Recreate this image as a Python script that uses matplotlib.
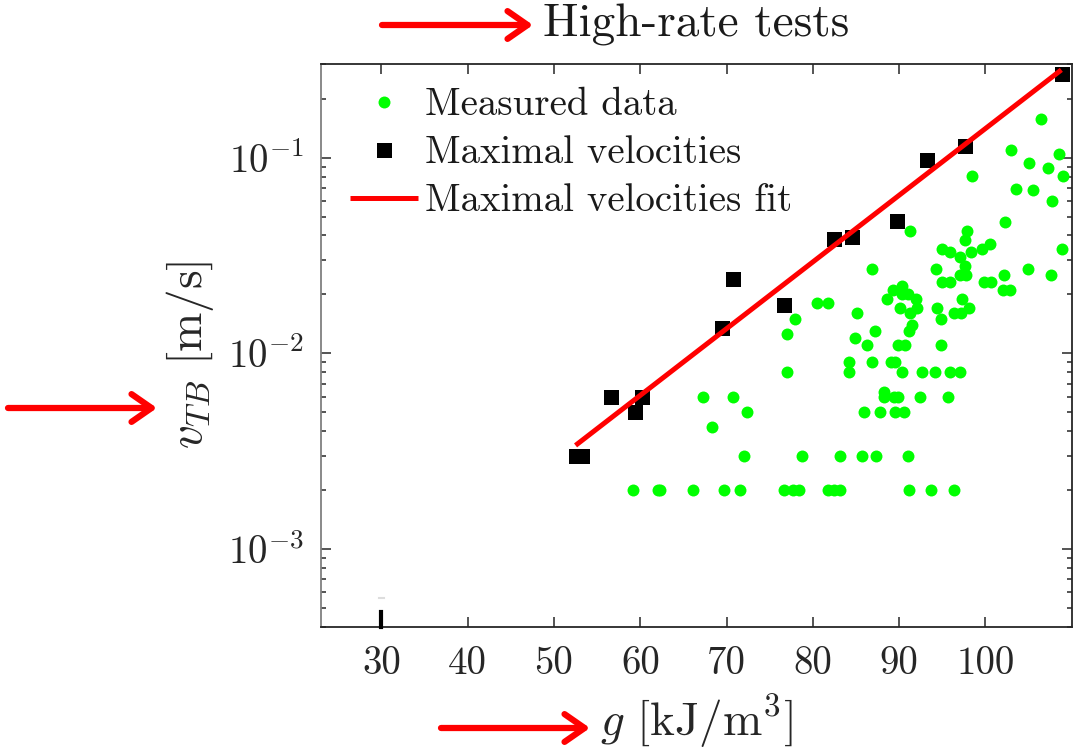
import math
import matplotlib
matplotlib.use("Agg")
import matplotlib.pyplot as plt
from matplotlib.patches import FancyArrowPatch
from matplotlib.ticker import FixedLocator, LogLocator, NullFormatter, FuncFormatter

plt.rcParams['font.family'] = 'serif'
plt.rcParams['font.serif'] = ['cmr10']
plt.rcParams['mathtext.fontset'] = 'cm'
plt.rcParams['axes.unicode_minus'] = False

# ---------------- data ----------------
meas_x = [91.3, 95.0, 95.9, 97.1, 97.6, 97.9, 98.3, 99.6, 100.5, 102.3, 98.4, 103.0, 103.5,
          105.1, 105.5, 106.5, 107.3, 107.7, 108.5, 109.0, 108.9,
          86.8, 94.3, 97.6, 97.0, 97.8, 104.9, 107.6, 102.1, 95.0, 95.9, 99.8, 100.7, 102.0,
          102.8, 89.3, 90.3, 88.6, 90.3, 91.0, 92.0, 90.1, 91.3, 92.1, 94.4, 94.9, 97.3, 98.1,
          96.4, 97.2, 85.1, 80.5, 81.8, 77.9, 77.0, 87.2, 84.9, 91.5, 91.2, 86.3, 89.9, 90.7,
          94.9, 84.2, 86.8, 89.1, 89.5, 84.2, 90.3, 92.7, 94.2, 95.9, 97.1, 77.0,
          67.3, 70.8, 88.3, 88.2, 89.4, 89.9, 92.4, 95.7,
          72.4, 85.9, 87.8, 89.5, 90.6,
          68.3,
          72.0, 78.8, 83.2, 85.7, 87.3, 91.0,
          59.2, 62.0, 62.3, 66.1, 69.7, 71.6, 76.6, 77.7, 78.4, 81.8, 82.4, 83.2, 91.1, 93.7, 96.4]
meas_y = [0.042, 0.034, 0.033, 0.031, 0.038, 0.042, 0.033, 0.034, 0.036, 0.047, 0.081, 0.110, 0.069,
          0.094, 0.068, 0.158, 0.089, 0.060, 0.104, 0.081, 0.034,
          0.027, 0.027, 0.028, 0.025, 0.025, 0.027, 0.025, 0.025, 0.023, 0.023, 0.023, 0.023, 0.021,
          0.021, 0.021, 0.022, 0.019, 0.020, 0.020, 0.019, 0.017, 0.016, 0.017, 0.017, 0.015, 0.019, 0.017,
          0.016, 0.016, 0.016, 0.018, 0.018, 0.015, 0.0125, 0.013, 0.012, 0.014, 0.013, 0.011, 0.011, 0.011,
          0.011, 0.009, 0.009, 0.009, 0.009, 0.008, 0.008, 0.008, 0.008, 0.008, 0.008, 0.008,
          0.006, 0.006, 0.0063, 0.006, 0.006, 0.006, 0.006, 0.006,
          0.005, 0.005, 0.005, 0.005, 0.005,
          0.0042,
          0.003, 0.003, 0.003, 0.003, 0.003, 0.003,
          0.002, 0.002, 0.002, 0.002, 0.002, 0.002, 0.002, 0.002, 0.002, 0.002, 0.002, 0.002, 0.002, 0.002, 0.002]

max_x = [52.6, 53.3, 56.6, 59.4, 60.2, 69.5, 70.8, 76.6, 82.4, 84.5, 89.8, 93.2, 97.6, 108.9]
max_y = [0.0030, 0.0030, 0.0060, 0.0050, 0.0060, 0.0135, 0.0239, 0.0177, 0.0384, 0.0392,
         0.0477, 0.0973, 0.115, 0.267]

fit_x = [52.5, 108.8]
fit_y = [0.00338, 0.281]

artifact_x = [30, 30]
artifact_y = [4.0e-4, 4.77e-4]
artifact2_x = [29.75, 30.25]
artifact2_y = [5.64e-4, 5.64e-4]

x_ticks = [30, 40, 50, 60, 70, 80, 90, 100]
x_lim = (23.0, 110.0)
y_lim = (4.0e-4, 0.30)

legend_labels = ['Measured data', 'Maximal velocities', 'Maximal velocities fit']

# ---------------- figure ----------------
W, H = 1076, 751
fig = plt.figure(figsize=(W / 100, H / 100), dpi=100)
L, R, T, B = 321, 1071.7, 64.3, 626.7
ax = fig.add_axes([L / W, 1 - B / H, (R - L) / W, (B - T) / H])

ax.set_yscale('log')
ax.set_xlim(*x_lim)
ax.set_ylim(*y_lim)

ax.plot(meas_x, meas_y, 'o', color='#00ff00', markersize=8.6, markeredgewidth=0,
        label=legend_labels[0], zorder=3)
ax.plot(max_x, max_y, 's', color='black', markersize=10.8, markeredgewidth=0,
        label=legend_labels[1], zorder=4)
ax.plot(fit_x, fit_y, '-', color='red', lw=3.6, label=legend_labels[2], zorder=5,
        solid_capstyle='butt')
ax.plot(artifact_x, artifact_y, '-', color='black', lw=3.0, zorder=6, clip_on=False)
ax.plot(artifact2_x, artifact2_y, '-', color='#dddddd', lw=1.5, zorder=6)

# ticks
ax.xaxis.set_major_locator(FixedLocator(x_ticks))
ax.yaxis.set_major_locator(LogLocator(base=10, numticks=10))
ax.yaxis.set_minor_locator(LogLocator(base=10, subs=range(2, 10), numticks=20))
ax.yaxis.set_minor_formatter(NullFormatter())
ax.yaxis.set_major_formatter(FuncFormatter(
    lambda v, p: r'$\mathregular{10^{%d}}$' % round(math.log10(v))))
ax.tick_params(axis='both', which='both', direction='in', top=True, right=True,
               color='#262626', labelcolor='#262626')
ax.tick_params(axis='both', which='major', length=7, width=1.1, labelsize=28)
ax.tick_params(axis='x', which='major', pad=14)
ax.tick_params(axis='y', which='major', pad=12)
ax.tick_params(axis='y', which='minor', length=3.8, width=1.1)

for s in ['top', 'right', 'bottom']:
    ax.spines[s].set_color('#262626')
    ax.spines[s].set_linewidth(1.3)
ax.spines['left'].set_color('#808080')
ax.spines['left'].set_linewidth(1.3)

ax.set_xlabel(r'$g\ [\mathrm{kJ/m}^3]$', fontsize=34, color='#262626')
ax.xaxis.set_label_coords(0.5, -0.117)
ax.xaxis.label.set_va('top')
ax.set_ylabel(r'$v_{TB}\ [\mathrm{m/s}]$', fontsize=34, color='#262626')
ax.yaxis.set_label_coords(-0.14, 0.483)

leg = ax.legend(loc='upper left', bbox_to_anchor=(334 / W, 1 - 72 / H),
                bbox_transform=fig.transFigure, frameon=False, fontsize=28,
                handlelength=1.75, handletextpad=0.18, labelspacing=0.31,
                borderpad=0.4, borderaxespad=0)
for t in leg.get_texts():
    t.set_color('#1a1a1a')

fig.text(543 / W, 1 - 25 / H, 'High-rate tests', fontsize=34, ha='left', va='center',
         color='#1a1a1a')


def arrow(x0, x1, y):
    a = FancyArrowPatch((x0 / W, 1 - y / H), (x1 / W, 1 - y / H), transform=fig.transFigure,
                        arrowstyle='->,head_length=0.72,head_width=0.5', mutation_scale=20,
                        lw=4.5, color='red', shrinkA=0, shrinkB=0)
    fig.patches.append(a)


arrow(382, 533, 25)
arrow(8, 157, 408)
arrow(441, 590, 728)

fig.savefig('out.png', dpi=100)
